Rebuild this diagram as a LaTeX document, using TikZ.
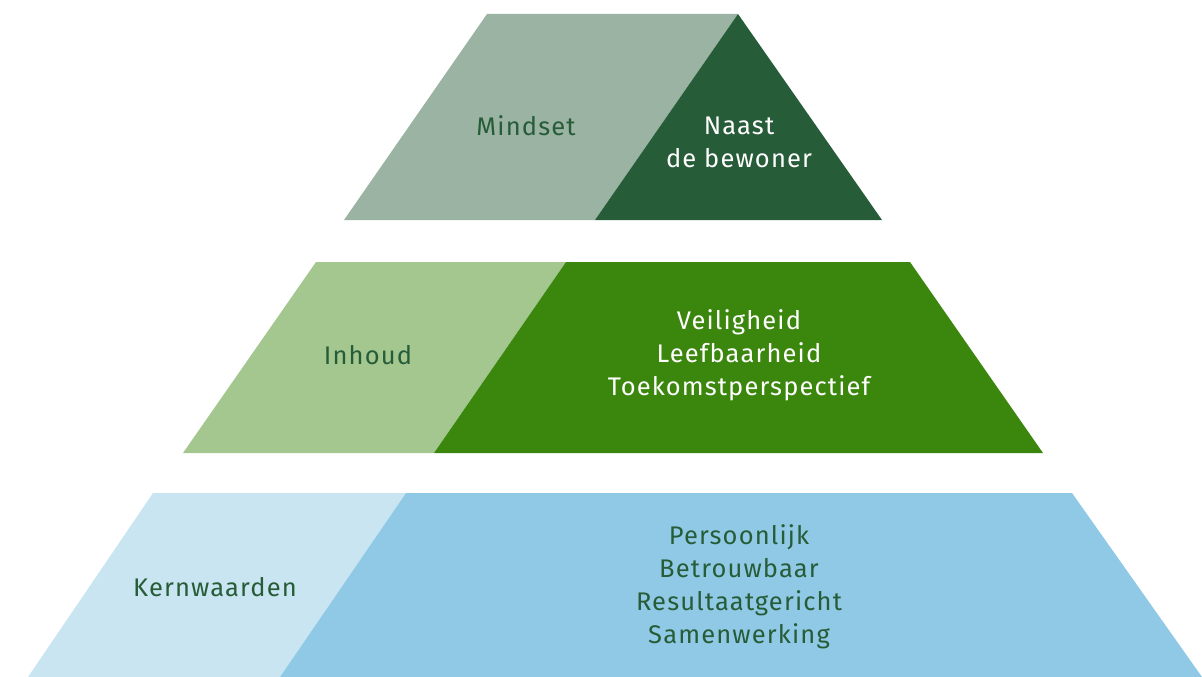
\documentclass[tikz,border=0pt]{standalone}
\usepackage{fontspec}
\setmainfont{Fira Sans}[LetterSpace=4.5]
\usetikzlibrary{positioning}
\definecolor{mindlight}{HTML}{9AB3A2}
\definecolor{minddark}{HTML}{275C38}
\definecolor{inhlight}{HTML}{A3C78F}
\definecolor{inhdark}{HTML}{3B870D}
\definecolor{kernlight}{HTML}{C9E5F1}
\definecolor{kerndark}{HTML}{90C9E5}
\definecolor{textgreen}{HTML}{275C38}

\begin{document}
\begin{tikzpicture}[x=1pt,y=-1pt,
  onlight/.style={align=center,font=\fontsize{25.5}{33}\selectfont,text=textgreen,inner sep=0pt},
  ondark/.style={onlight,text=white}]
  \useasboundingbox (0,0) rectangle (1202,677);
  % top layer
  \fill[mindlight] (487,14) -- (738,14) -- (595,220) -- (344,220) -- cycle;
  \fill[minddark] (738,14) -- (882,220) -- (595,220) -- cycle;
  % middle layer
  \fill[inhlight] (316,262) -- (566,262) -- (434,453) -- (183,453) -- cycle;
  \fill[inhdark] (566,262) -- (910,262) -- (1043,453) -- (434,453) -- cycle;
  % bottom layer
  \fill[kernlight] (153,493) -- (406,493) -- (280,677) -- (28,677) -- cycle;
  \fill[kerndark] (406,493) -- (1072,493) -- (1202,677) -- (280,677) -- cycle;
  % texts
  \node[onlight] (mindset) at (526,126) {Mindset};
  \node[ondark] (naast) at (739,142) {Naast\\de bewoner};
  \node[onlight] (inhoud) at (368,355) {Inhoud};
  \node[ondark] (thema) at (739,355) {Veiligheid\\Leefbaarheid\\Toekomstperspectief};
  \node[onlight] (kern) at (215,587) {Kernwaarden};
  \node[onlight] (waarden) at (739,587) {Persoonlijk\\Betrouwbaar\\Resultaatgericht\\Samenwerking};
\end{tikzpicture}
\end{document}
